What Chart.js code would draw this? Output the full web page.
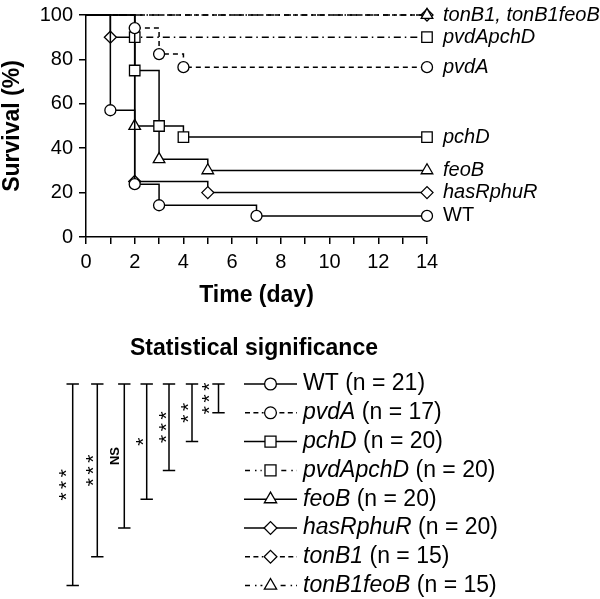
<!DOCTYPE html>
<html><head><meta charset="utf-8">
<script src="https://cdn.jsdelivr.net/npm/chart.js@4.4.1/dist/chart.umd.min.js"></script>
<style>html,body{margin:0;padding:0;background:#fff;}canvas{display:block;}</style>
</head><body>
<canvas id="c" width="600" height="599"></canvas>
<script>
// ---- data (Kaplan-Meier survival, % surviving at each event day) ----
const wtDays = [0, 1, 2, 3, 7, 14];
const wtSurv = [100, 57.1, 23.8, 14.3, 9.5, 9.5];
const pvdADays = [0, 2, 3, 4, 14];
const pvdASurv = [100, 94.1, 82.4, 76.5, 76.5];
const pchDDays = [0, 2, 3, 4, 14];
const pchDSurv = [100, 75, 50, 45, 45];
const pvdApchDDays = [0, 2, 14];
const pvdApchDSurv = [100, 90, 90];
const feoBDays = [0, 2, 3, 5, 14];
const feoBSurv = [100, 50, 35, 30, 30];
const hasRphuRDays = [0, 1, 2, 5, 14];
const hasRphuRSurv = [100, 90, 25, 20, 20];
const tonB1Days = [0, 14];
const tonB1Surv = [100, 100];
const tonB1feoBDays = [0, 14];
const tonB1feoBSurv = [100, 100];

const strainNames = ['WT', 'pvdA', 'pchD', 'pvdApchD', 'feoB', 'hasRphuR', 'tonB1', 'tonB1feoB'];
const strainN = [21, 17, 20, 20, 20, 20, 15, 15];
// significance of each mutant vs WT (pvdA ... tonB1feoB)
const sigVsWT = ['***', '**', '***', '*', 'NS', '***', '***'];
// end-of-curve labels: [text, series]
const endLabels = [['tonB1, tonB1feoB', 'tonB1'], ['pvdApchD', 'pvdApchD'], ['pvdA', 'pvdA'],
                   ['pchD', 'pchD'], ['feoB', 'feoB'], ['hasRphuR', 'hasRphuR'], ['WT', 'WT']];
const xTickStep = 1, yTickStep = 20;

// ---- styles / layout ----
const FONT = "'Liberation Sans', Arial, Helvetica, sans-serif";
const R = {circle: 5.5, rect: 7.4, triangle: 6.7, rectRot: 6};
const DASH = [5, 4], DASHDOT = [7, 4, 1.5, 4];
const styles = {
  WT: {dash: [], point: 'circle'},
  pvdA: {dash: DASH, point: 'circle'},
  pchD: {dash: [], point: 'rect'},
  pvdApchD: {dash: DASHDOT, point: 'rect'},
  feoB: {dash: [], point: 'triangle'},
  hasRphuR: {dash: [], point: 'rectRot'},
  tonB1: {dash: DASH, point: 'rectRot'},
  tonB1feoB: {dash: DASHDOT, point: 'triangle', order: -1}
};
const legendDash = {WT: [], pvdA: [5, 3.4], pchD: [], pvdApchD: [5, 5, 1.5, 4], feoB: [], hasRphuR: [], tonB1: [5, 3.4], tonB1feoB: [5, 5, 1.5, 4]};
const LEG = {lineX0: 244, lineX1: 297, markX: 270.5, textX: 303, y0: 384, dy: 28.8, font: 23};
const BR = {x: [218.5, 192, 169, 146.7, 124.3, 97.3, 72.7], labelX: [204.3, 182.7, 161, 137.7, 115, 88.3, 60.7], cap: 6.2};
const STAR = {size: 21, gap: 11.7};

const seriesData = {
  WT: [wtDays, wtSurv], pvdA: [pvdADays, pvdASurv], pchD: [pchDDays, pchDSurv],
  pvdApchD: [pvdApchDDays, pvdApchDSurv], feoB: [feoBDays, feoBSurv],
  hasRphuR: [hasRphuRDays, hasRphuRSurv], tonB1: [tonB1Days, tonB1Surv], tonB1feoB: [tonB1feoBDays, tonB1feoBSurv]
};

function makeDataset(name) {
  const [xs, ys] = seriesData[name];
  const st = styles[name];
  return {
    label: name,
    data: xs.map((d, i) => ({x: d, y: ys[i]})),
    stepped: 'before',
    order: st.order || 0,
    borderColor: '#000', borderWidth: 1.5, borderDash: st.dash,
    pointStyle: st.point,
    pointRadius: c => c.dataIndex === 0 ? 0 : R[st.point],
    pointBackgroundColor: '#fff', pointBorderColor: '#000', pointBorderWidth: 1.3,
    fill: false, tension: 0, clip: false
  };
}

function drawMarker(ctx, style, r, px, py) {
  ctx.save();
  ctx.setLineDash([]);
  ctx.fillStyle = '#fff'; ctx.strokeStyle = '#000'; ctx.lineWidth = 1.3;
  if (Chart.helpers && Chart.helpers.drawPoint) {
    Chart.helpers.drawPoint(ctx, {pointStyle: style, radius: r, rotation: 0, borderWidth: 1.3}, px, py);
  } else {
    ctx.beginPath();
    if (style === 'circle') ctx.arc(px, py, r, 0, Math.PI * 2);
    else if (style === 'rect') { const s = r * Math.SQRT1_2; ctx.rect(px - s, py - s, 2 * s, 2 * s); }
    else if (style === 'rectRot') { ctx.moveTo(px - r, py); ctx.lineTo(px, py - r); ctx.lineTo(px + r, py); ctx.lineTo(px, py + r); ctx.closePath(); }
    else { for (let k = 0; k < 3; k++) { const a = k * 2 * Math.PI / 3; const fx = px + Math.sin(a) * r, fy = py - Math.cos(a) * r; k ? ctx.lineTo(fx, fy) : ctx.moveTo(fx, fy); } ctx.closePath(); }
    ctx.fill(); ctx.stroke();
  }
  ctx.restore();
}

const annotate = {
  id: 'annotate',
  afterDraw(chart) {
    const {ctx} = chart;
    const x = chart.scales.x, y = chart.scales.y;
    ctx.save();
    ctx.fillStyle = '#000'; ctx.strokeStyle = '#000';
    // end labels
    const lx = x.getPixelForValue(14) + 16;
    ctx.textBaseline = 'middle'; ctx.textAlign = 'left';
    endLabels.forEach(([txt, s]) => {
      const ys = seriesData[s][1];
      ctx.font = (txt === 'WT' ? '' : 'italic ') + '20px ' + FONT;
      ctx.fillText(txt, lx, y.getPixelForValue(ys[ys.length - 1]));
    });
    // title
    ctx.font = 'bold 23px ' + FONT; ctx.textAlign = 'center'; ctx.textBaseline = 'alphabetic';
    ctx.fillText('Statistical significance', 254, 354.5);
    // legend
    strainNames.forEach((name, i) => {
      const ry = LEG.y0 + i * LEG.dy;
      const st = styles[name], r = R[st.point] + 0.4;
      ctx.lineWidth = 1.5; ctx.setLineDash(legendDash[name]);
      ctx.beginPath();
      if (legendDash[name].length) {
        ctx.moveTo(LEG.lineX0 + 1, ry); ctx.lineTo(LEG.markX - r - 1, ry);
        ctx.stroke(); ctx.beginPath();
        ctx.moveTo(LEG.markX + r + 3, ry); ctx.lineTo(LEG.lineX1, ry);
      } else { ctx.moveTo(LEG.lineX0, ry); ctx.lineTo(LEG.lineX1, ry); }
      ctx.stroke();
      ctx.setLineDash([]);
      drawMarker(ctx, st.point, r, LEG.markX, ry);
      ctx.fillStyle = '#000'; ctx.textAlign = 'left'; ctx.textBaseline = 'middle';
      ctx.font = (name === 'WT' ? '' : 'italic ') + LEG.font + 'px ' + FONT;
      ctx.fillText(name, LEG.textX, ry);
      const w = ctx.measureText(name).width;
      ctx.font = LEG.font + 'px ' + FONT;
      ctx.fillText(' (n = ' + strainN[i] + ')', LEG.textX + w, ry);
    });
    // significance brackets (WT vs each)
    ctx.lineWidth = 1.5; ctx.setLineDash([]);
    const top = LEG.y0;
    const hasLS = ('letterSpacing' in ctx);
    sigVsWT.forEach((lab, i) => {
      const bx = BR.x[i], bot = LEG.y0 + (i + 1) * LEG.dy;
      ctx.beginPath();
      ctx.moveTo(bx, top); ctx.lineTo(bx, bot);
      ctx.moveTo(bx - BR.cap, top); ctx.lineTo(bx + BR.cap, top);
      ctx.moveTo(bx - BR.cap, bot); ctx.lineTo(bx + BR.cap, bot);
      ctx.stroke();
      const cy = (top + bot) / 2;
      ctx.save();
      ctx.textAlign = 'center';
      if (lab === 'NS') {
        ctx.font = 'bold 13px ' + FONT; ctx.textBaseline = 'middle';
        ctx.translate(BR.labelX[i], cy);
        ctx.rotate(-Math.PI / 2);
        ctx.fillText(lab, 0, 0);
      } else {
        ctx.font = STAR.size + 'px ' + FONT; ctx.textBaseline = 'alphabetic';
        ctx.translate(BR.labelX[i] + 0.57 * STAR.size, cy);
        ctx.rotate(-Math.PI / 2);
        const adv = ctx.measureText('*').width;
        const ls = STAR.gap - adv;
        if (hasLS) {
          ctx.letterSpacing = ls + 'px';
          ctx.fillText(lab, ls / 2, 0);
        } else {
          const n = lab.length;
          for (let k = 0; k < n; k++) ctx.fillText('*', (k - (n - 1) / 2) * STAR.gap, 0);
        }
      }
      ctx.restore();
    });
    ctx.restore();
  }
};

new Chart(document.getElementById('c'), {
  type: 'line',
  data: {datasets: strainNames.map(makeDataset)},
  options: {
    responsive: false, animation: false, events: [],
    layout: {padding: {left: 0, top: 9, right: 173, bottom: 290}},
    plugins: {legend: {display: false}, tooltip: {enabled: false}},
    scales: {
      x: {
        type: 'linear', min: 0, max: 14,
        ticks: {stepSize: xTickStep, autoSkip: false, maxRotation: 0, padding: 6, color: '#000',
          font: {family: FONT, size: 20, lineHeight: 1.2},
          callback: v => (v % 2 === 0 ? String(v) : '')},
        grid: {drawOnChartArea: false, drawTicks: true, tickLength: 7, color: '#000', lineWidth: 1.5},
        border: {color: '#000', width: 1.5},
        title: {display: true, text: 'Time (day)', color: '#000', padding: 0,
          font: {family: FONT, size: 23, weight: 'bold', lineHeight: 1.2}},
        afterFit: s => { s.height = 72; }
      },
      y: {
        type: 'linear', min: 0, max: 100,
        ticks: {stepSize: yTickStep, padding: 6, color: '#000', font: {family: FONT, size: 20, lineHeight: 0.9}},
        grid: {drawOnChartArea: false, drawTicks: true, tickLength: 7, color: '#000', lineWidth: 1.5},
        border: {color: '#000', width: 1.5},
        title: {display: true, text: 'Survival (%)', color: '#000', padding: {top: 1, bottom: 0},
          font: {family: FONT, size: 23, weight: 'bold', lineHeight: 1}},
        afterFit: s => { s.width = 86; }
      }
    }
  },
  plugins: [annotate]
});
</script>
</body></html>
